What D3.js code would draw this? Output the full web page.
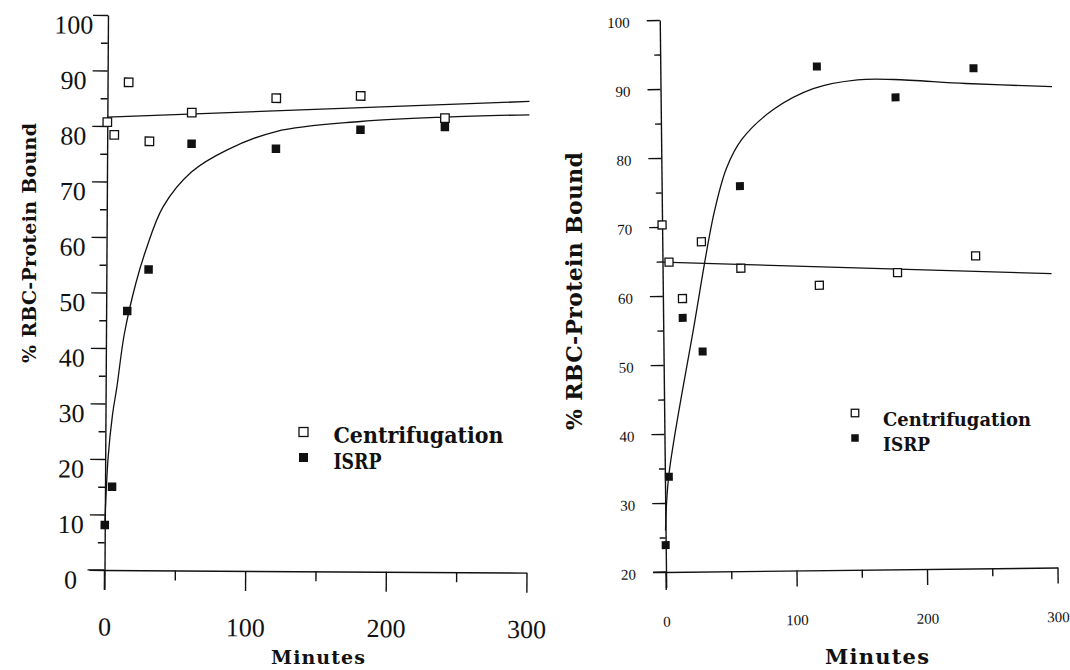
<!DOCTYPE html>
<html>
<head>
<meta charset="utf-8">
<script src="https://cdn.jsdelivr.net/npm/d3@7"></script>
<style>
  body { margin: 0; background: #fff; }
  svg { display: block; }
</style>
</head>
<body>
<svg id="chart" width="1070" height="670"></svg>
<script>
// Sampling times (minutes)
var times = [0, 5, 15, 30, 60, 120, 180, 240];
var timesRightIsrp = [0, 3, 15, 30, 60, 120, 180, 240];

// Left panel: % bound
var leftCentrifugation = [80.7, 78.4, 87.9, 77.3, 82.5, 85.2, 85.7, 81.8];
var leftIsrp = [8.1, 15.0, 46.7, 54.2, 76.9, 76.1, 79.6, 80.2];
var leftCentrifugationFit = [[0, 81.6], [300, 84.9]];
var leftIsrpFit = [[0, 8], [2, 20], [5, 28], [8, 33], [13, 42.5], [21, 51.7], [28, 57.7],
  [40, 65.5], [60, 71.8], [85, 75.8], [120, 79.2], [180, 81.1], [240, 82], [300, 82.5]];

// Right panel: % bound
var rightCentrifugation = [70.3, 64.9, 59.6, 67.8, 63.9, 61.3, 63.0, 65.3];
var rightIsrp = [23.9, 33.8, 56.8, 51.9, 75.8, 93.0, 88.4, 92.5];
var rightCentrifugationFit = [[0, 64.9], [298, 62.6]];
var rightIsrpFit = [[0, 26], [3, 34], [23, 55], [40, 72], [50, 78.5], [62, 82.6], [86, 86.8],
  [117, 89.8], [151, 91], [179, 91], [234, 90.3], [300, 89.7]];

// Ticks
var xTicks = [0, 100, 200, 300];
var xMinorTicks = [50, 150, 250];
var leftYTicks = [0, 10, 20, 30, 40, 50, 60, 70, 80, 90, 100];
var leftYMinorTicks = [5, 15, 25, 35, 45, 55, 65, 75, 85, 95];
var rightYTicks = [20, 30, 40, 50, 60, 70, 80, 90, 100];
var rightYMinorTicks = [25, 35, 45, 55, 65, 75, 85, 95];

var seriesNames = ["Centrifugation", "ISRP"];
var xTitle = "Minutes";
var yTitle = "% RBC-Protein Bound";

var ink = "#111";
var svg = d3.select("#chart");
svg.append("rect").attr("width", 1070).attr("height", 670).attr("fill", "#fff");

/** Draws one panel: axes, fitted lines and points */
function drawPanel(p) {
  var g = svg.append("g")
    .attr("transform", "translate(" + p.ox + "," + p.oy + ") rotate(" + p.angle + ")");

  var x = d3.scaleLinear().domain([0, 300]).range([0, p.w]);
  var y = d3.scaleLinear().domain([p.yMin, 100]).range([0, -p.h]);

  // x axis, major and minor ticks
  var xa = g.append("g")
    .call(d3.axisBottom(x).tickValues(xTicks).tickSize(p.xTick).tickSizeOuter(0)
      .tickPadding(p.xPad).tickFormat(d3.format("d")));
  g.append("g")
    .call(d3.axisBottom(x).tickValues(xMinorTicks).tickSize(p.xTick / 2).tickFormat(""))
    .select(".domain").remove();
  g.append("line").attr("x1", -p.xLeft).attr("x2", 0).attr("y1", 0).attr("y2", 0);

  // y axis, major and minor ticks
  var ya = g.append("g")
    .call(d3.axisLeft(y).tickValues(p.yTicks).tickSize(p.yTick).tickSizeOuter(0)
      .tickFormat(d3.format("d")));
  g.append("g")
    .call(d3.axisLeft(y).tickValues(p.yMinor).tickSize(p.yTick / 2.2).tickFormat(""))
    .select(".domain").remove();
  g.append("line").attr("x1", 0).attr("x2", 0).attr("y1", 0).attr("y2", p.yDown);

  g.selectAll("path.domain, .tick line, line")
    .attr("stroke", ink).attr("stroke-width", 1.4);

  xa.selectAll("text")
    .attr("font-family", p.tickFont).attr("font-size", p.xTickSize).attr("fill", ink);
  ya.selectAll("text")
    .attr("font-family", p.tickFont).attr("font-size", p.yTickSize).attr("fill", ink)
    .attr("text-anchor", p.yAnchor).attr("x", p.yLabelX).attr("dy", p.yDy);

  var line = d3.line()
    .x(function(d) { return x(d[0]); })
    .y(function(d) { return y(d[1]); })
    .curve(d3.curveCatmullRom.alpha(0.5));

  [p.centFit, p.isrpFit].forEach(function(f) {
    g.append("path").datum(f)
      .attr("d", line)
      .attr("fill", "none")
      .attr("stroke", ink)
      .attr("stroke-width", 1.3);
  });

  var s = p.mark;
  g.append("g").selectAll("rect")
      .data(p.cent)
      .enter()
    .append("rect")
      .attr("x", function(d, i) { return x(p.tCent[i]) - s / 2; })
      .attr("y", function(d) { return y(d) - s / 2; })
      .attr("width", s).attr("height", s)
      .attr("fill", "#fff").attr("stroke", ink).attr("stroke-width", 1.3);

  g.append("g").selectAll("rect")
      .data(p.isrp)
      .enter()
    .append("rect")
      .attr("x", function(d, i) { return x(p.tIsrp[i]) - s / 2; })
      .attr("y", function(d) { return y(d) - s / 2; })
      .attr("width", s).attr("height", s)
      .attr("fill", ink);

  // axis titles
  svg.append("text")
    .attr("x", p.xTitleX).attr("y", p.xTitleY)
    .attr("text-anchor", "middle")
    .attr("font-family", "DejaVu Serif").attr("font-weight", "bold")
    .attr("font-size", p.xTitleSize)
    .attr("textLength", p.xTitleLen)
    .attr("fill", ink)
    .text(xTitle);

  svg.append("text")
    .attr("transform", "translate(" + p.yTitleX + "," + p.yTitleY + ") rotate(-90)")
    .attr("text-anchor", "middle")
    .attr("dy", "0.36em")
    .attr("font-family", "DejaVu Serif").attr("font-weight", "bold")
    .attr("font-size", p.yTitleSize)
    .attr("textLength", p.yTitleLen)
    .attr("fill", ink)
    .text(yTitle);

  // legend
  var lg = svg.append("g").attr("transform", "translate(" + p.legX + "," + p.legY + ")");
  var ls = p.legMark;
  lg.append("rect").attr("x", -ls / 2).attr("y", -ls / 2).attr("width", ls).attr("height", ls)
    .attr("fill", "#fff").attr("stroke", ink).attr("stroke-width", 1.3);
  lg.append("rect").attr("x", -ls / 2).attr("y", p.legGap - ls / 2).attr("width", ls).attr("height", ls)
    .attr("fill", ink);
  lg.selectAll("text")
      .data(seriesNames)
      .enter()
    .append("text")
      .attr("x", p.legTextX)
      .attr("y", function(d, i) { return i * p.legGap + p.legBase; })
      .attr("font-family", "DejaVu Serif").attr("font-weight", "bold")
      .attr("font-size", p.legSize)
      .attr("textLength", function(d, i) { return p.legLen[i]; })
      .attr("lengthAdjust", "spacingAndGlyphs")
      .attr("fill", ink)
      .text(function(d) { return d; });
}

drawPanel({
  ox: 104.5, oy: 570, w: 422, h: 555, yMin: 0, angle: 0.36,
  xTick: 20, xPad: 27, xLeft: 17, yTick: 15, yDown: 20,
  yTicks: leftYTicks, yMinor: leftYMinorTicks,
  tickFont: "Liberation Serif", xTickSize: 26, yTickSize: 26,
  yAnchor: "middle", yLabelX: -34, yDy: "0.7em",
  cent: leftCentrifugation, isrp: leftIsrp, tCent: times, tIsrp: times,
  centFit: leftCentrifugationFit, isrpFit: leftIsrpFit, mark: 8.5,
  xTitleX: 318, xTitleY: 664, xTitleSize: 19, xTitleLen: 94,
  yTitleX: 29, yTitleY: 243, yTitleSize: 19, yTitleLen: 240,
  legX: 303.5, legY: 432, legMark: 9, legGap: 25.5, legTextX: 30, legBase: 11,
  legSize: 22, legLen: [170, 48]
});

drawPanel({
  ox: 666, oy: 572, w: 391.5, h: 552, yMin: 20, angle: -0.65,
  xTick: 16, xPad: 28, xLeft: 13, yTick: 13, yDown: 18,
  yTicks: rightYTicks, yMinor: rightYMinorTicks,
  tickFont: "Liberation Serif", xTickSize: 15, yTickSize: 15,
  yAnchor: "end", yLabelX: -30, yDy: "0.45em",
  cent: rightCentrifugation, isrp: rightIsrp, tCent: times, tIsrp: timesRightIsrp,
  centFit: rightCentrifugationFit, isrpFit: rightIsrpFit, mark: 8,
  xTitleX: 877, xTitleY: 664, xTitleSize: 21, xTitleLen: 104,
  yTitleX: 574, yTitleY: 291, yTitleSize: 22, yTitleLen: 278,
  legX: 855, legY: 413, legMark: 7.5, legGap: 25, legTextX: 28, legBase: 12.5,
  legSize: 19, legLen: [148, 47]
});
</script>
</body>
</html>
